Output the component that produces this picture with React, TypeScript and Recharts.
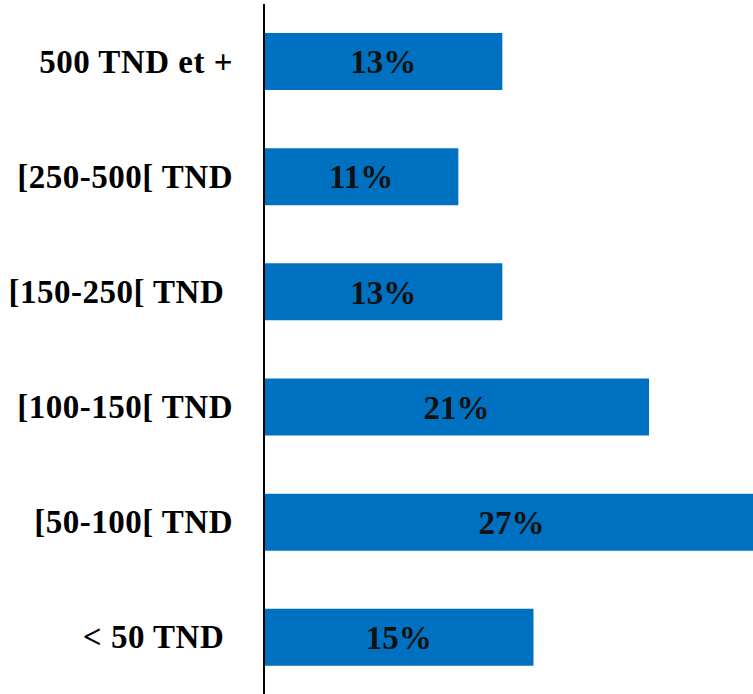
import React from "react";
import { BarChart, Bar, XAxis, YAxis, LabelList } from "recharts";

const categories = ["500 TND et +", "[250-500[ TND", "[150-250[ TND\u00A0", "[100-150[ TND", "[50-100[ TND", "< 50 TND\u00A0"];
const shares = [13, 10.6, 13, 21, 27, 14.7];

const data = categories.map((c, i) => ({ name: c, value: shares[i] }));

const FONT = "'Liberation Serif', 'Times New Roman', serif";

const CatTick = (props: any) => {
  const { y, payload } = props;
  return (
    <text x={233} y={y} dy={11} textAnchor="end" fontFamily={FONT} fontWeight="bold" fontSize={33} letterSpacing={0.5} fill="#000">
      {payload.value}
    </text>
  );
};

export default function App() {
  return (
    <div style={{ position: "absolute", left: 0, top: 0, width: 753, height: 694, overflow: "hidden", background: "#fff" }}>
      <BarChart
        width={820}
        height={700}
        data={data}
        layout="vertical"
        margin={{ top: 4, right: 6, bottom: 5, left: 0 }}
      >
        <XAxis type="number" domain={[0, 30]} hide />
        <YAxis
          type="category"
          dataKey="name"
          width={264}
          axisLine={{ stroke: "#000", strokeWidth: 2 }}
          tickLine={false}
          tick={<CatTick />}
          interval={0}
        />
        <Bar dataKey="value" fill="#0070C0" barSize={57} isAnimationActive={false}>
          <LabelList
            dataKey="value"
            position="center"
            formatter={(v: any) => `${Math.round(v)}%`}
            style={{ fontFamily: FONT, fontWeight: "bold", fontSize: 33, fill: "#111" }}
          />
        </Bar>
      </BarChart>
    </div>
  );
}
